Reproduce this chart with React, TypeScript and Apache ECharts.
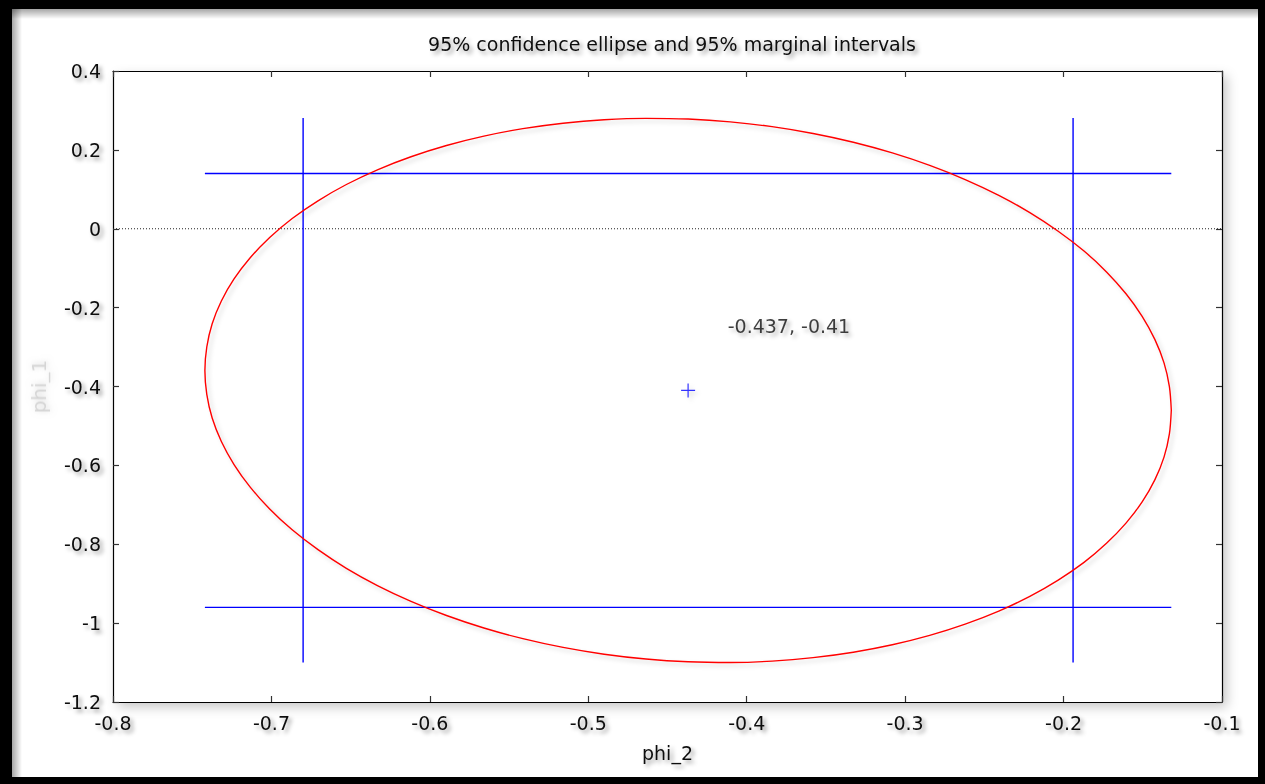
import React, { useEffect, useRef } from "react";
import * as echarts from "echarts";

const titleText = "95% confidence ellipse and 95% marginal intervals";
const xName = "phi_2";
const yName = "phi_1";
const xRange = [-0.8, -0.1];
const yRange = [-1.2, 0.4];
const xStep = 0.1;
const yStep = 0.2;
const center = [-0.437, -0.41];
const centerLabel = "-0.437, -0.41";
const labelAnchor = [-0.412, -0.247];
const ellipseX = [
  -0.132, -0.1332, -0.1366, -0.1424, -0.1504, -0.1606, -0.1729, -0.1871, -0.2034,
  -0.2213, -0.2409, -0.2621, -0.2845, -0.3081, -0.3327, -0.3581, -0.384, -0.4104,
  -0.437, -0.4636, -0.49, -0.5159, -0.5413, -0.5659, -0.5895, -0.6119, -0.6331,
  -0.6527, -0.6706, -0.6869, -0.7011, -0.7134, -0.7236, -0.7316, -0.7374, -0.7408,
  -0.742, -0.7408, -0.7374, -0.7316, -0.7236, -0.7134, -0.7011, -0.6869, -0.6706,
  -0.6527, -0.6331, -0.6119, -0.5895, -0.5659, -0.5413, -0.5159, -0.49, -0.4636,
  -0.437, -0.4104, -0.384, -0.3581, -0.3327, -0.3081, -0.2845, -0.2621, -0.2409,
  -0.2213, -0.2034, -0.1871, -0.1729, -0.1606, -0.1504, -0.1424, -0.1366, -0.1332,
  -0.132,
];
const ellipseY = [
  -0.46, -0.5202, -0.5791, -0.6368, -0.6927, -0.7465, -0.7977, -0.846, -0.8909,
  -0.9322, -0.9695, -1.0026, -1.0311, -1.0549, -1.0738, -1.0876, -1.0963, -1.0999,
  -1.0981, -1.0911, -1.0789, -1.0616, -1.0394, -1.0123, -0.9807, -0.9448, -0.9047,
  -0.861, -0.8137, -0.7634, -0.7105, -0.6551, -0.5979, -0.5394, -0.4799, -0.4198,
  -0.3596, -0.2998, -0.2409, -0.1832, -0.1273, -0.0735, -0.0223, 0.026, 0.0709,
  0.1122, 0.1495, 0.1826, 0.2111, 0.2349, 0.2538, 0.2676, 0.2763, 0.2799,
  0.2781, 0.2711, 0.2589, 0.2416, 0.2194, 0.1923, 0.1607, 0.1248, 0.0847,
  0.041, -0.0063, -0.0566, -0.1095, -0.1649, -0.2221, -0.2806, -0.3401, -0.4002,
  -0.46,
];
const marginalX = [-0.68, -0.194];
const marginalY = [-0.96, 0.14];
const spanX = [-0.742, -0.132];
const spanY = [-1.1, 0.281];

const FONT = "DejaVu Sans";
const shadowText = {
  textShadowColor: "rgba(0,0,0,0.4)",
  textShadowBlur: 4,
  textShadowOffsetX: 3,
  textShadowOffsetY: 3,
};
const lineShadow = {
  shadowColor: "rgba(0,0,0,0.18)",
  shadowBlur: 4,
  shadowOffsetX: 3,
  shadowOffsetY: 3,
};

const GRID = { left: 113, top: 71, right: 43, bottom: 82 };
const W = 1265;
const H = 784;

const fmt = (v: number) => String(Number(v.toFixed(2)));

export default function App() {
  const ref = useRef<HTMLDivElement>(null);
  useEffect(() => {
    document.body.style.margin = "0";
    const chart = echarts.init(ref.current!, undefined, { renderer: "svg" });
    const blue = "#0000ff";
    const segment = (pts: number[][]) => ({
      type: "line",
      data: pts,
      symbol: "none",
      silent: true,
      lineStyle: { color: blue, width: 1.4 },
      z: 3,
    });
    const axisCommon = {
      axisLine: { show: true, onZero: false, lineStyle: { color: "#000", width: 1.2 } },
      axisTick: { show: true, inside: true, length: 6, lineStyle: { color: "#333", width: 1.2 } },
      splitLine: { show: false },
    };
    const labelStyle = { color: "#111", fontFamily: FONT, fontSize: 19, ...shadowText };
    chart.setOption({
      animation: false,
      backgroundColor: "#000",
      graphic: [
        { type: "rect", z: -1, shape: { x: 12, y: 9, width: 1246, height: 768 }, style: { fill: "#fff" } },
        {
          type: "rect", z: -1,
          shape: { x: 12, y: 9, width: 1246, height: 10 },
          style: {
            fill: new echarts.graphic.LinearGradient(0, 0, 0, 1, [
              { offset: 0, color: "rgba(0,0,0,0.35)" },
              { offset: 1, color: "rgba(0,0,0,0)" },
            ]),
          },
        },
        {
          type: "rect", z: -1,
          shape: { x: 12, y: 9, width: 10, height: 768 },
          style: {
            fill: new echarts.graphic.LinearGradient(0, 0, 1, 0, [
              { offset: 0, color: "rgba(0,0,0,0.35)" },
              { offset: 1, color: "rgba(0,0,0,0)" },
            ]),
          },
        },
        {
          type: "rect", z: -1,
          shape: { x: GRID.left, y: GRID.top, width: W - GRID.left - GRID.right, height: H - GRID.top - GRID.bottom },
          style: { fill: "#fff", shadowBlur: 12, shadowOffsetX: 5, shadowOffsetY: 5, shadowColor: "rgba(0,0,0,0.22)" },
        },
      ],
      title: {
        text: titleText,
        left: 667,
        textAlign: "center",
        top: 29,
        textStyle: { color: "#111", fontFamily: FONT, fontSize: 19, fontWeight: "normal", ...shadowText },
      },
      grid: { ...GRID },
      xAxis: [
        {
          type: "value", min: xRange[0], max: xRange[1], interval: xStep, position: "bottom",
          name: xName, nameLocation: "middle", nameGap: 41,
          nameTextStyle: { ...labelStyle },
          ...axisCommon,
          axisLabel: { ...labelStyle, margin: 11, formatter: fmt },
        },
        {
          type: "value", min: xRange[0], max: xRange[1], interval: xStep, position: "top",
          ...axisCommon, axisLabel: { show: false },
        },
      ],
      yAxis: [
        {
          type: "value", min: yRange[0], max: yRange[1], interval: yStep, position: "left",
          name: yName, nameLocation: "middle", nameGap: 64,
          nameTextStyle: {
            color: "rgba(200,200,200,0.7)", fontFamily: FONT, fontSize: 20,
            textShadowColor: "rgba(150,150,150,0.6)", textShadowBlur: 6, textShadowOffsetX: 1, textShadowOffsetY: 1,
          },
          ...axisCommon,
          axisLabel: { ...labelStyle, margin: 12, formatter: fmt },
        },
        {
          type: "value", min: yRange[0], max: yRange[1], interval: yStep, position: "right",
          ...axisCommon, axisLabel: { show: false },
        },
      ],
      series: [
        {
          type: "line",
          data: [[xRange[0], 0], [xRange[1], 0]],
          symbol: "none",
          silent: true,
          lineStyle: { color: "#222", width: 1, type: [1, 2] },
          z: 1,
        },
        {
          type: "line",
          data: ellipseX.map((x, i) => [x, ellipseY[i]]),
          symbol: "none",
          smooth: 0.3,
          silent: true,
          lineStyle: { color: "#ff0000", width: 1.4, ...lineShadow },
          z: 4,
        },
        segment([[spanX[0], marginalY[1]], [spanX[1], marginalY[1]]]),
        segment([[spanX[0], marginalY[0]], [spanX[1], marginalY[0]]]),
        segment([[marginalX[0], spanY[0]], [marginalX[0], spanY[1]]]),
        segment([[marginalX[1], spanY[0]], [marginalX[1], spanY[1]]]),
        {
          type: "scatter",
          data: [center],
          symbol: "path://M0,5 L10,5 M5,0 L5,10",
          symbolSize: 14,
          silent: true,
          itemStyle: { color: "transparent", borderColor: blue, borderWidth: 1.2, ...lineShadow },
          z: 5,
        },
        {
          type: "scatter",
          data: [labelAnchor],
          symbolSize: 0,
          silent: true,
          label: {
            show: true,
            position: "right",
            distance: 0,
            formatter: () => centerLabel,
            ...labelStyle,
          },
          z: 5,
        },
      ],
    });
    return () => chart.dispose();
  }, []);
  return <div ref={ref} style={{ position: "fixed", left: 0, top: 0, width: W, height: H }} />;
}
